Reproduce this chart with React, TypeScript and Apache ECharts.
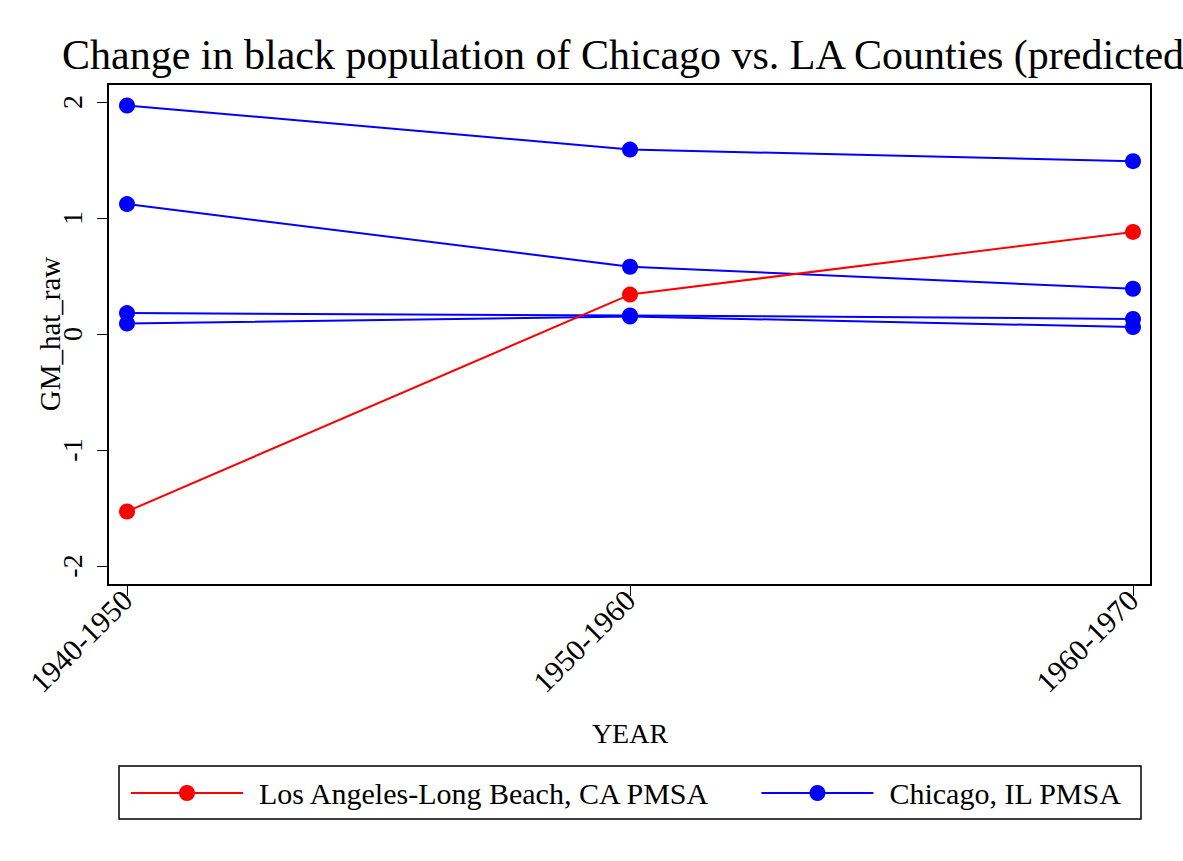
import React, { useEffect, useRef } from "react";
import * as echarts from "echarts";

const categories = ["1940-1950", "1950-1960", "1960-1970"];
const laValues = [-1.53, 0.34, 0.88];
const chicagoA = [1.97, 1.59, 1.49];
const chicagoB = [1.12, 0.58, 0.39];
const chicagoC = [0.18, 0.16, 0.13];
const chicagoD = [0.09, 0.15, 0.06];
const yTicks = { min: -2, max: 2, interval: 1 };
const titleText = "Change in black population of Chicago vs. LA Counties (predicted";
const laName = "Los Angeles-Long Beach, CA PMSA";
const chiName = "Chicago, IL PMSA";

const FONT = '"Liberation Serif", "Times New Roman", serif';

export default function App() {
  const ref = useRef<HTMLDivElement>(null);
  useEffect(() => {
    const chart = echarts.init(ref.current!, undefined, { renderer: "svg" });
    const lineSeries = (name: string, data: number[], color: string) => ({
      type: "line",
      name,
      data,
      symbol: "circle",
      symbolSize: 16,
      lineStyle: { color, width: 2 },
      itemStyle: { color },
      emphasis: { disabled: true },
    });
    chart.setOption({
      animation: false,
      backgroundColor: "#fff",
      textStyle: { fontFamily: FONT },
      title: {
        text: titleText,
        left: 62,
        top: 34,
        padding: 0,
        textStyle: { fontFamily: FONT, fontSize: 42, fontWeight: "normal", color: "#000" },
      },
      legend: {
        left: 130,
        top: 778,
        itemWidth: 112,
        itemHeight: 20,
        itemGap: 49,
        padding: 0,
        data: [laName, chiName],
        textStyle: { fontFamily: FONT, fontSize: 30, color: "#000", padding: [0, 0, 0, 11] },
      },
      grid: { left: 127, right: 50, top: 102, bottom: 295, containLabel: false },
      xAxis: {
        type: "category",
        data: categories,
        boundaryGap: false,
        offset: 19,
        name: "YEAR",
        nameLocation: "middle",
        nameGap: 134,
        nameMoveOverlap: false,
        nameTextStyle: { fontFamily: FONT, fontSize: 28, color: "#000" },
        axisLine: { show: false, onZero: false },
        axisTick: { show: true, length: 11, lineStyle: { color: "#000", width: 1 } },
        axisLabel: { rotate: 45, fontFamily: FONT, fontSize: 30, color: "#000", margin: 10 },
        splitLine: { show: false },
      },
      yAxis: {
        type: "value",
        min: yTicks.min,
        max: yTicks.max,
        interval: yTicks.interval,
        offset: 19,
        name: "GM_hat_raw",
        nameLocation: "middle",
        nameGap: 44,
        nameMoveOverlap: false,
        nameTextStyle: { fontFamily: FONT, fontSize: 29, color: "#000" },
        axisLine: { show: false, onZero: false },
        axisTick: { show: true, length: 11, lineStyle: { color: "#000", width: 1 } },
        axisLabel: { rotate: 90, fontFamily: FONT, fontSize: 28, color: "#000", margin: 22 },
        splitLine: { show: false },
      },
      graphic: [
        {
          type: "rect",
          shape: { x: 108, y: 84, width: 1043, height: 501 },
          style: { fill: "none", stroke: "#000", lineWidth: 2 },
          silent: true,
          z: 10,
        },
        {
          type: "rect",
          shape: { x: 119, y: 766, width: 1022, height: 53 },
          style: { fill: "none", stroke: "#000", lineWidth: 1.5 },
          silent: true,
        },
      ],
      series: [
        lineSeries(chiName, chicagoA, "#0000ff"),
        lineSeries(chiName, chicagoB, "#0000ff"),
        lineSeries(chiName, chicagoC, "#0000ff"),
        lineSeries(chiName, chicagoD, "#0000ff"),
        lineSeries(laName, laValues, "#ff0000"),
      ],
    });
    return () => chart.dispose();
  }, []);
  return <div ref={ref} style={{ width: 1183, height: 861, position: "absolute", left: 0, top: 0 }} />;
}
